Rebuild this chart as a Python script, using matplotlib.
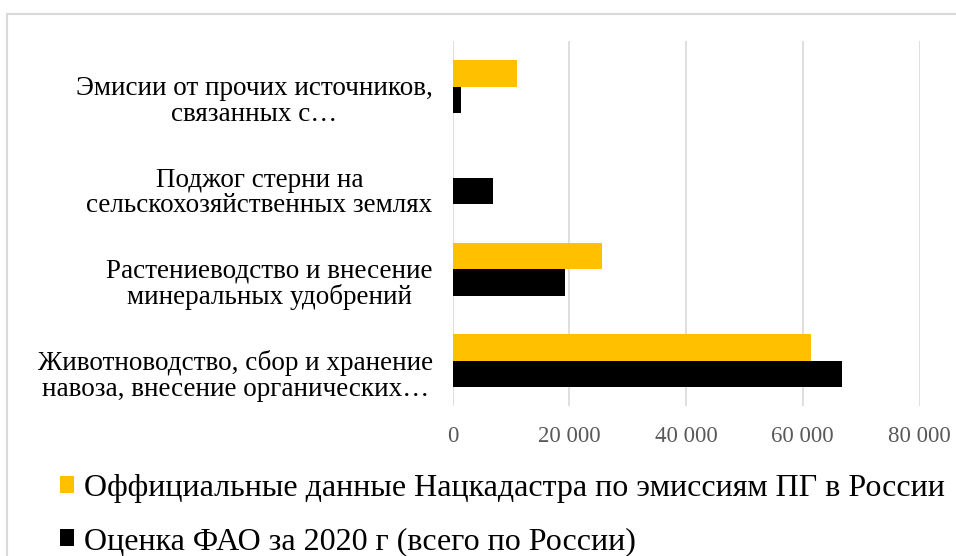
import matplotlib
matplotlib.use("Agg")
import matplotlib.pyplot as plt
from matplotlib.patches import Patch, Rectangle
from matplotlib.transforms import ScaledTranslation
import numpy as np

categories = [
    "Животноводство, сбор и хранение\nнавоза, внесение органических…",
    "Растениеводство и внесение\nминеральных удобрений",
    "Поджог стерни на\nсельскохозяйственных землях",
    "Эмисии от прочих источников,\nсвязанных с…",
]
official = [61400, 25600, 0, 11000]
fao = [66700, 19300, 6950, 1450]
series_names = [
    "Оффициальные данные Нацкадастра по эмиссиям ПГ в России",
    "Оценка ФАО за 2020 г (всего по России)",
]
xticks = [0, 20000, 40000, 60000, 80000]
xticklabels = ["0", "20 000", "40 000", "60 000", "80 000"]

plt.rcParams['font.family'] = ['Liberation Serif', 'DejaVu Serif']

W, H = 956, 556
fig = plt.figure(figsize=(W / 100, H / 100), dpi=100)
ax = fig.add_axes([452.7 / W, 1 - 406.4 / H, (919.5 - 452.7) / W, (406.4 - 41) / H])

y = np.arange(len(categories))
h = 0.288
yellow = "#FFC000"
black = "#000000"
ax.barh(y + h / 2, official, height=h, color=yellow, zorder=3)
ax.barh(y - h / 2, fao, height=h, color=black, zorder=3)

ax.set_xlim(0, 80000)
ax.set_ylim(-0.5, len(categories) - 0.5)
ax.set_xticks(xticks)
ax.set_xticklabels(xticklabels, fontsize=16.5, color="#595959")
ax.set_yticks(y)
ax.set_yticklabels([])
ax.tick_params(axis="both", length=0)
ax.tick_params(axis="x", pad=14)
ax.grid(axis="x", color="#D9D9D9", linewidth=1.2, zorder=0)
for s in ax.spines.values():
    s.set_visible(False)

# category labels (y from data, x offset from axis)
off = ScaledTranslation(-20 / 100, -15 / 100, fig.dpi_scale_trans)
for yi, lab in zip(y, categories):
    ax.text(0, yi, lab, transform=ax.get_yaxis_transform() + off,
            ha="right", va="center", multialignment="center",
            fontsize=19.5, linespacing=1.05, color="#000000")

# outer frame
fig.patches.append(Rectangle((7 / W, -0.1), 1.2, (1 - 14 / H) + 0.1, transform=fig.transFigure,
                             fill=False, edgecolor="#D9D9D9", linewidth=1.5))

handles = [Patch(facecolor=yellow), Patch(facecolor=black)]
fig.legend(handles, series_names, loc="upper left", bbox_to_anchor=(60 / W, 1 - 474 / H),
           frameon=False, fontsize=23, handlelength=0.44, handleheight=0.44,
           handletextpad=0.3, labelspacing=0.75, borderaxespad=0, borderpad=0)

fig.savefig("out.png", dpi=100)
